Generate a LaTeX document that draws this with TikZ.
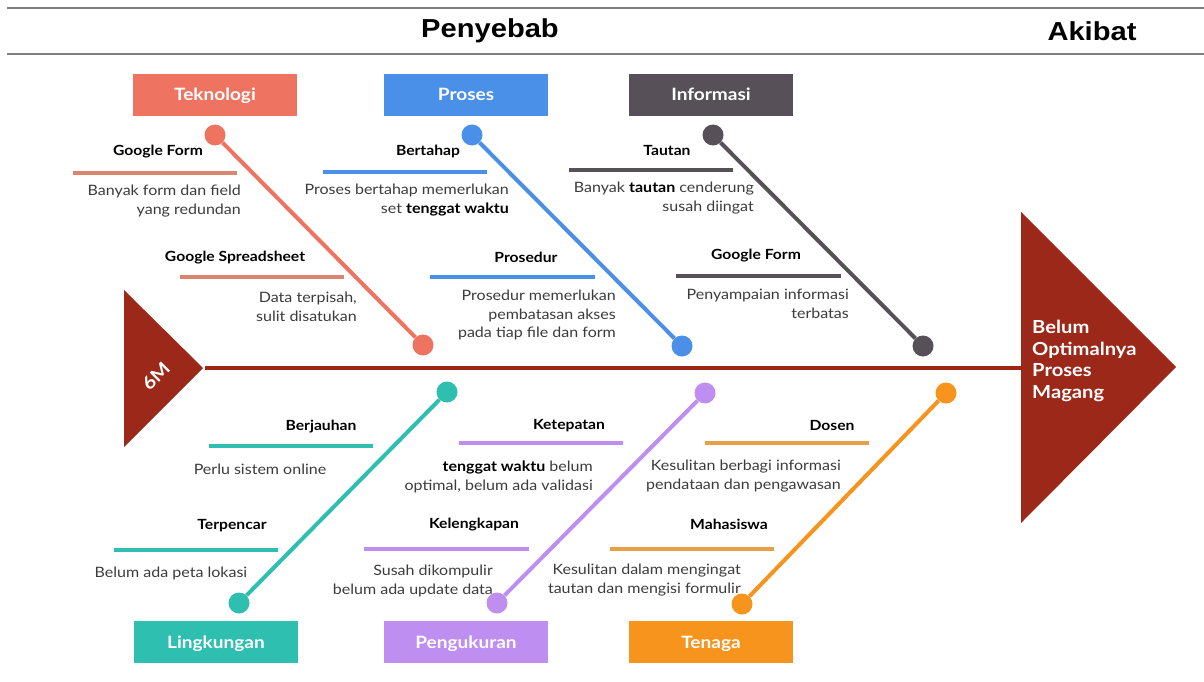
\documentclass[tikz,border=0pt]{standalone}
\usepackage{fontspec}
\setmainfont{Lato}[FakeStretch=1.12]
\newfontfamily\hdrfont{Liberation Sans}[FakeStretch=1.12]
\definecolor{hdrgray}{HTML}{7F7F7F}
\definecolor{spinered}{HTML}{9B2818}
\definecolor{ctek}{HTML}{EE7461}
\definecolor{ctekl}{HTML}{DB8570}
\definecolor{cpro}{HTML}{4A8FE8}
\definecolor{cinf}{HTML}{575059}
\definecolor{clin}{HTML}{2EBFB0}
\definecolor{cpen}{HTML}{BE8FF1}
\definecolor{cten}{HTML}{F7941E}
\definecolor{ctenl}{HTML}{E89F45}
\definecolor{bodygray}{HTML}{3C3C3C}
\begin{document}
\begin{tikzpicture}[x=1pt,y=-1pt,
  hline/.style={draw=hdrgray,line width=2pt},
  hdr/.style={font=\hdrfont\bfseries\fontsize{26}{30}\selectfont,inner sep=0pt},
  catbox/.style={minimum width=164pt,minimum height=42pt,inner sep=0pt,text=white,text height=12.5pt,text depth=0.5pt,font=\bfseries\fontsize{17}{20}\selectfont},
  dot/.style={circle,minimum size=21pt,inner sep=0pt},
  bone/.style={line width=4pt},
  subln/.style={line width=4pt},
  lbl/.style={font=\bfseries\fontsize{14}{17}\selectfont,inner sep=0pt,text=black},
  body/.style={font=\fontsize{14.3}{18.5}\selectfont,inner sep=0pt,text=bodygray,align=right},
]
\useasboundingbox (0,0) rectangle (1204,682);
\fill[white] (0,0) rectangle (1204,682);

% header
\coordinate (hlA) at (7,8); \coordinate (hlB) at (1204,8);
\coordinate (hlC) at (7,54); \coordinate (hlD) at (1204,54);
\draw[hline] (hlA) -- (hlB);
\draw[hline] (hlC) -- (hlD);
\node[hdr] (penyebab) at (490,31) {Penyebab};
\node[hdr] (akibat) at (1092,31) {Akibat};

% spine and heads
\fill[spinered] (124,290) -- (203,368) -- (124,447) -- cycle;
\fill[spinered] (1021,212) -- (1176,367) -- (1021,523) -- cycle;
\coordinate (spineL) at (205,368);
\coordinate (spineR) at (1022,368);
\draw[spinered,line width=4pt] (spineL) -- (spineR);
\node[rotate=45,text=white,font=\bfseries\fontsize{18}{20}\selectfont,inner sep=0pt] (sixm) at (156,376) {6M};
\node[anchor=west,align=left,text=white,inner sep=0pt,font=\bfseries\fontsize{18}{21.7}\selectfont] (effect) at (1032,361) {Belum\\Optimalnya\\Proses\\Magang};

% category boxes
\node[catbox,fill=ctek] (tek) at (215,95) {Teknologi};
\node[catbox,fill=cpro] (pro) at (466,95) {Proses};
\node[catbox,fill=cinf] (inf) at (711,95) {Informasi};
\node[catbox,fill=clin] (lin) at (216,642) {Lingkungan};
\node[catbox,fill=cpen] (pen) at (466,642) {Pengukuran};
\node[catbox,fill=cten] (ten) at (711,642) {Tenaga};

% bones
\node[dot,fill=ctek] (tekA) at (215,135) {};
\node[dot,fill=ctek] (tekB) at (423,345) {};
\draw[bone,ctek] (tekA) -- (tekB);
\node[dot,fill=cpro] (proA) at (472,135) {};
\node[dot,fill=cpro] (proB) at (682,346) {};
\draw[bone,cpro] (proA) -- (proB);
\node[dot,fill=cinf] (infA) at (713,135) {};
\node[dot,fill=cinf] (infB) at (923,346) {};
\draw[bone,cinf] (infA) -- (infB);
\node[dot,fill=clin] (linA) at (447,392) {};
\node[dot,fill=clin] (linB) at (239,603) {};
\draw[bone,clin] (linA) -- (linB);
\node[dot,fill=cpen] (penA) at (705,393) {};
\node[dot,fill=cpen] (penB) at (497,603) {};
\draw[bone,cpen] (penA) -- (penB);
\node[dot,fill=cten] (tenA) at (946,393) {};
\node[dot,fill=cten] (tenB) at (742,604) {};
\draw[bone,cten] (tenA) -- (tenB);

% sub-bones
\coordinate (ta1) at (73,173); \coordinate (ta2) at (237,173);
\coordinate (tb1) at (180,277); \coordinate (tb2) at (344,277);
\draw[subln,ctekl] (ta1) -- (ta2);
\draw[subln,ctekl] (tb1) -- (tb2);
\coordinate (pa1) at (323,172); \coordinate (pa2) at (487,172);
\coordinate (pb1) at (430,277); \coordinate (pb2) at (595,277);
\draw[subln,cpro] (pa1) -- (pa2);
\draw[subln,cpro] (pb1) -- (pb2);
\coordinate (ia1) at (569,170); \coordinate (ia2) at (733,170);
\coordinate (ib1) at (676,276); \coordinate (ib2) at (841,276);
\draw[subln,cinf] (ia1) -- (ia2);
\draw[subln,cinf] (ib1) -- (ib2);
\coordinate (la1) at (209,446); \coordinate (la2) at (373,446);
\coordinate (lb1) at (114,550); \coordinate (lb2) at (278,550);
\draw[subln,clin] (la1) -- (la2);
\draw[subln,clin] (lb1) -- (lb2);
\coordinate (ma1) at (459,443); \coordinate (ma2) at (623,443);
\coordinate (mb1) at (364,549); \coordinate (mb2) at (529,549);
\draw[subln,cpen] (ma1) -- (ma2);
\draw[subln,cpen] (mb1) -- (mb2);
\coordinate (na1) at (705,443); \coordinate (na2) at (869,443);
\coordinate (nb1) at (610,549); \coordinate (nb2) at (774,549);
\draw[subln,ctenl] (na1) -- (na2);
\draw[subln,ctenl] (nb1) -- (nb2);

% labels
\node[lbl] (lblTa) at (158,152) {Google Form};
\node[lbl] (lblTb) at (235,258) {Google Spreadsheet};
\node[lbl] (lblPa) at (428,151) {Bertahap};
\node[lbl] (lblPb) at (526,257) {Prosedur};
\node[lbl] (lblIa) at (667,150) {Tautan};
\node[lbl] (lblIb) at (756,256) {Google Form};
\node[lbl] (lblLa) at (321,427) {Berjauhan};
\node[lbl] (lblLb) at (232,526) {Terpencar};
\node[lbl] (lblMa) at (569,426) {Ketepatan};
\node[lbl] (lblMb) at (474,525) {Kelengkapan};
\node[lbl] (lblNa) at (832,425) {Dosen};
\node[lbl] (lblNb) at (729,524) {Mahasiswa};

% body texts
\node[body,anchor=east] (txTa) at (241,201) {Banyak form dan field\\yang redundan};
\node[body,anchor=east] (txTb) at (357,307) {Data terpisah,\\sulit disatukan};
\node[body,anchor=east] (txPa) at (509,200) {Proses bertahap memerlukan\\set {\color{black}\bfseries tenggat waktu}};
\node[body,anchor=east] (txPb) at (616,315) {Prosedur memerlukan\\pembatasan akses\\pada tiap file dan form};
\node[body,anchor=east] (txIa) at (754,198) {Banyak {\color{black}\bfseries tautan} cenderung\\susah diingat};
\node[body,anchor=east] (txIb) at (849,304) {Penyampaian informasi\\terbatas};
\node[body] (txLa) at (260,469) {Perlu sistem online};
\node[body] (txLb) at (171,573) {Belum ada peta lokasi};
\node[body,anchor=east] (txMa) at (593,477) {{\color{black}\bfseries tenggat waktu} belum\\optimal, belum ada validasi};
\node[body,anchor=east] (txMb) at (493,581) {Susah dikompulir\\belum ada update data};
\node[body,anchor=east] (txNa) at (841,476) {Kesulitan berbagi informasi\\pendataan dan pengawasan};
\node[body,anchor=east] (txNb) at (741,580) {Kesulitan dalam mengingat\\tautan dan mengisi formulir};
\end{tikzpicture}
\end{document}
